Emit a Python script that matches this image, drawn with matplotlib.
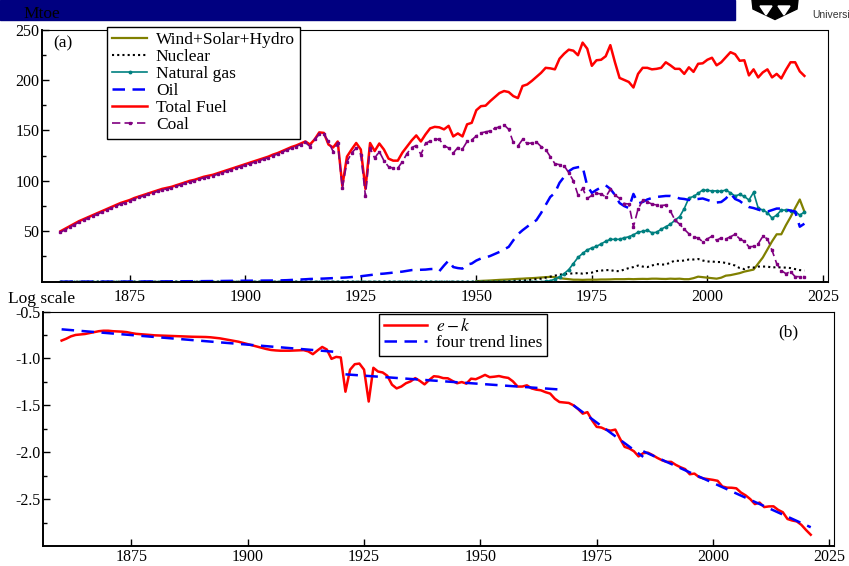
import numpy as np
import matplotlib
matplotlib.use("Agg")
import matplotlib.pyplot as plt
from matplotlib.patches import Rectangle, Polygon

plt.rcParams['font.family'] = ['Liberation Serif', 'DejaVu Serif']
plt.rcParams['mathtext.fontset'] = 'stix'
plt.rcParams['axes.unicode_minus'] = False

# ---- data (a): UK primary energy, Mtoe ----
years = np.arange(1860, 2022)

total_fuel = [
    50, 52.5, 55, 57.5, 60, 62, 64, 66, 68, 70,
    72, 74, 76, 78, 79.5, 81, 83, 84.5, 86, 87.5,
    89, 90.5, 92, 93, 94, 95.5, 97, 98.5, 100, 101,
    102.5, 104, 105, 106, 107.5, 109, 110.5, 112, 113.5, 115,
    116.5, 118, 119.5, 121, 122.5, 124, 126, 127.5, 129.5, 131.5,
    133.5, 135, 137, 139, 136, 141, 148, 147.5, 136, 133,
    139, 95, 124, 131, 137.5, 131, 92, 137.5, 129.5, 137,
    131, 122, 120, 120, 128, 134, 140, 145, 139, 146,
    152, 153.5, 153, 151, 154.5, 144, 147, 144, 156, 157.5,
    170, 174, 174.5, 179, 183, 187, 189, 188, 184, 182,
    194, 195.5, 199, 203, 207, 212, 211.5, 210.5, 221, 226,
    230, 229, 224.5, 237, 231, 214, 219.5, 220, 223.5, 234.5,
    217.5, 202, 200, 198, 192.5, 206, 212, 212, 210.5, 211,
    212, 217.5, 214.5, 211, 211, 206, 212.5, 208, 216, 216.5,
    220, 222, 214.5, 217.5, 222.5, 227.5, 225.5, 219, 219.5, 204.5,
    210.5, 202.5, 207.5, 210.5, 202.5, 206, 201.5, 210, 217.5, 217.5,
    208.5, 204]

coal = [
    49, 51.5, 54, 56.5, 59, 61, 63, 65, 67, 69,
    71, 73, 75, 77, 78.5, 80, 82, 83.5, 85, 86.5,
    88, 89.5, 91, 92, 93, 94.5, 96, 97.5, 99, 100,
    101.5, 103, 104, 105, 106.5, 108, 109.5, 111, 112.5, 114,
    115.5, 117, 118.5, 120, 121.5, 123, 125, 126.5, 128.5, 130.5,
    132.5, 134, 136, 138, 134, 141, 146, 146, 139, 129,
    137.5, 92.5, 119, 127.5, 132.5, 126, 85, 132.5, 122.5, 129,
    120, 114, 112.5, 112.5, 119, 127, 133, 135, 126, 137,
    139.5, 141.5, 141, 135, 132.5, 127.5, 133, 131.5, 139, 140.5,
    144.5, 147.5, 148.5, 149.5, 152, 153.5, 155.5, 151, 138, 134.5,
    141, 137, 137.5, 138.5, 134, 131, 124, 117, 116, 115,
    108, 100, 86, 92.5, 82.5, 85.5, 87.5, 87, 84, 91.5,
    86, 82.5, 77.5, 77, 54.5, 72, 80.5, 79, 77, 76,
    75.5, 76, 70, 61, 57, 52, 47.5, 44, 43.5, 39.5,
    42.5, 45, 41, 43.5, 42.5, 44.5, 47, 42.5, 40, 34.5,
    35, 37.5, 45, 42.5, 31, 18, 11, 8, 10, 5,
    5, 5]

oil = [
    0, 0, 0, 0, 0, 0, 0, 0, 0, 0,
    0.1, 0.1, 0.1, 0.1, 0.1, 0.2, 0.2, 0.2, 0.2, 0.2,
    0.3, 0.3, 0.3, 0.3, 0.4, 0.4, 0.4, 0.4, 0.5, 0.5,
    0.5, 0.6, 0.6, 0.6, 0.7, 0.7, 0.8, 0.8, 0.9, 0.9,
    1.0, 1.0, 1.0, 1.1, 1.1, 1.1, 1.2, 1.2, 1.3, 1.5,
    1.7, 1.9, 2.2, 2.4, 2.7, 2.8, 3.0, 3.1, 3.3, 3.5,
    3.7, 3.9, 4.2, 4.6, 5.0, 5.4, 6.0, 6.6, 7.2, 7.7,
    8.0, 8.5, 9.0, 9.5, 10.0, 10.8, 11.5, 11.7, 11.8, 12.0,
    12.5, 12.7, 10.5, 16, 21, 14.5, 13.5, 13, 17, 18,
    21, 23, 24, 25.5, 27.5, 29.5, 32, 34.5, 41, 47,
    51, 54.5, 58, 61, 68, 76, 84, 88, 98, 104,
    109.5, 112.5, 113.5, 114, 95, 88, 91, 93.5, 95.5, 92,
    86, 78, 75, 73, 87, 77.5, 79, 81.5, 83, 84,
    84.5, 85, 85, 84, 82.5, 82, 81, 81.5, 82, 82.5,
    81, 79.5, 78.5, 79, 82.5, 87.5, 82, 80, 76.5, 74,
    73, 71.5, 70, 69.5, 71, 72.5, 72.5, 71.5, 70.5, 69.5,
    54.5, 57.5]

natural_gas = [
    0, 0, 0, 0, 0, 0, 0, 0, 0, 0,
    0, 0, 0, 0, 0, 0, 0, 0, 0, 0,
    0, 0, 0, 0, 0, 0, 0, 0, 0, 0,
    0, 0, 0, 0, 0, 0, 0, 0, 0, 0,
    0, 0, 0, 0, 0, 0, 0, 0, 0, 0,
    0, 0, 0, 0, 0, 0, 0, 0, 0, 0,
    0, 0, 0, 0, 0, 0, 0, 0, 0, 0,
    0, 0, 0, 0, 0, 0, 0, 0, 0, 0,
    0, 0, 0, 0, 0, 0, 0, 0, 0, 0,
    0, 0, 0, 0, 0, 0, 0, 0, 0, 0,
    0, 0, 0, 0, 0, 0.3, 1, 2.5, 5, 8,
    12, 18, 24, 28, 31.5, 33.5, 35, 37.5, 40, 42,
    42, 42, 43.5, 44.5, 46.5, 49, 50, 51, 48.5, 49,
    52, 54.5, 57, 61, 64.5, 72.5, 83, 84.5, 87.5, 91,
    90.5, 90, 90, 89.5, 91, 88, 85, 86.5, 84.5, 81,
    88.5, 73, 71, 68.5, 63, 66, 71, 71, 70.5, 69.5,
    66, 69]

nuclear = [
    0, 0, 0, 0, 0, 0, 0, 0, 0, 0,
    0, 0, 0, 0, 0, 0, 0, 0, 0, 0,
    0, 0, 0, 0, 0, 0, 0, 0, 0, 0,
    0, 0, 0, 0, 0, 0, 0, 0, 0, 0,
    0, 0, 0, 0, 0, 0, 0, 0, 0, 0,
    0, 0, 0, 0, 0, 0, 0, 0, 0, 0,
    0, 0, 0, 0, 0, 0, 0, 0, 0, 0,
    0, 0, 0, 0, 0, 0, 0, 0, 0, 0,
    0, 0, 0, 0, 0, 0, 0, 0, 0, 0,
    0, 0, 0, 0, 0, 0, 0.2, 0.5, 0.8, 1,
    1, 1.5, 2, 2.5, 3, 4, 5, 6, 7, 7.5,
    8, 8.3, 8.5, 8, 8.5, 9, 10.5, 11, 11.5, 11.5,
    10.5, 10.5, 12, 13.5, 14.5, 16, 15, 14.5, 16, 17.5,
    17, 17, 19, 21, 20.5, 21, 22, 22, 22.5, 21,
    20, 20, 19.5, 19.5, 18.5, 17.5, 16, 13.5, 12.5, 14.5,
    14, 15, 15, 15, 14, 14.5, 14, 14, 13.5, 12.5,
    11.5, 11]

ren_years = np.arange(1950, 2022)
wind_solar_hydro = [
    0.5, 0.8, 1, 1.2, 1.5, 1.8, 2, 2.2, 2.5, 2.8,
    3, 3.3, 3.5, 3.8, 4.2, 4.5, 4.8, 4.5, 3.5, 3,
    2.5, 2, 2, 1.8, 2, 2, 2, 2.2, 2.2, 2.3,
    2.5, 2.5, 2.5, 2.7, 2.5, 2.7, 2.8, 2.7, 3, 3,
    2.8, 2.7, 3, 2.8, 3, 2.5, 2.5, 3.5, 5, 4.5,
    4, 3.5, 3, 4, 6, 6.5, 7.5, 8.5, 10, 11,
    12, 18, 24, 32, 40, 47, 47, 56, 64, 73,
    81.5, 69.5]

# ---- data (b): e - k, log scale ----
ek = [
    -0.81, -0.79, -0.765, -0.75, -0.745, -0.74, -0.73, -0.72, -0.71, -0.705,
    -0.705, -0.71, -0.712, -0.715, -0.72, -0.73, -0.738, -0.742, -0.746, -0.75,
    -0.754, -0.756, -0.758, -0.76, -0.762, -0.764, -0.766, -0.768, -0.769, -0.77,
    -0.77, -0.772, -0.775, -0.78, -0.786, -0.795, -0.803, -0.812, -0.822, -0.835,
    -0.848, -0.862, -0.875, -0.888, -0.9, -0.91, -0.915, -0.918, -0.918, -0.918,
    -0.916, -0.914, -0.912, -0.925, -0.955, -0.915, -0.878, -0.905, -1.005, -0.984,
    -0.99, -1.355, -1.12, -1.062, -1.055, -1.12, -1.46, -1.10, -1.14, -1.15,
    -1.185, -1.28, -1.32, -1.30, -1.265, -1.245, -1.21, -1.24, -1.277, -1.23,
    -1.19, -1.195, -1.21, -1.212, -1.24, -1.265, -1.252, -1.269, -1.216, -1.222,
    -1.2, -1.176, -1.2, -1.195, -1.188, -1.2, -1.208, -1.245, -1.3, -1.3,
    -1.287, -1.32, -1.333, -1.34, -1.36, -1.375, -1.43, -1.465, -1.47, -1.475,
    -1.5, -1.54, -1.589, -1.573, -1.66, -1.73, -1.737, -1.76, -1.77, -1.759,
    -1.855, -1.943, -1.96, -1.99, -2.045, -2.01, -2.005, -2.03, -2.06, -2.085,
    -2.103, -2.103, -2.135, -2.16, -2.18, -2.235, -2.228, -2.265, -2.28, -2.287,
    -2.295, -2.305, -2.365, -2.378, -2.379, -2.385, -2.43, -2.46, -2.5, -2.553,
    -2.537, -2.585, -2.578, -2.577, -2.615, -2.64, -2.712, -2.728, -2.738, -2.775,
    -2.83, -2.88]

trend_years = [[1860, 1920], [1921, 1968], [1970, 1985], [1985, 2021]]
trend_vals = [[-0.69, -0.935], [-1.17, -1.335], [-1.50, -2.05], [-1.99, -2.80]]

# ---- figure ----
fig = plt.figure(figsize=(8.49, 5.66), dpi=100)
W, H = 849.0, 566.0

# slide header bar and logo
fig.patches.append(Rectangle((0, 1 - 19.5 / H), 735 / W, 19.5 / H,
                             transform=fig.transFigure, color='#000080', zorder=0))
shield = [(752, 0), (798, 0), (797, 9), (775, 19.5), (753, 9)]
fig.patches.append(Polygon([(x / W, 1 - y / H) for x, y in shield], closed=True,
                           transform=fig.transFigure, color='black', zorder=1))
for cx in (766, 784):
    tri = [(cx - 6, 6), (cx + 6, 6), (cx, 15)]
    fig.patches.append(Polygon([(x / W, 1 - y / H) for x, y in tri], closed=True,
                               transform=fig.transFigure, color='white', zorder=2))
fig.text(812 / W, 1 - 15 / H, 'Universi', fontsize=7.5, color='#333333',
         family=['Liberation Sans Narrow', 'Liberation Sans', 'DejaVu Sans'],
         va='center', ha='left')
fig.text(23 / W, 1 - 17.5 / H, 'Mtoe', fontsize=12.5, color='black', va='baseline')
fig.text(8 / W, 1 - 303 / H, 'Log scale', fontsize=12.5, va='baseline')

ax1 = fig.add_axes([42 / W, 1 - 281.7 / H, 785.5 / W, 252.2 / H])
ax2 = fig.add_axes([43 / W, 1 - 546 / H, 791 / W, 234.5 / H])

ax1.plot(ren_years, wind_solar_hydro, color='#808000', lw=1.6, label='Wind+Solar+Hydro')
ax1.plot(years, nuclear, color='black', lw=1.5, ls=(0, (1, 1.5)), label='Nuclear')
ax1.plot(years, natural_gas, color='#008080', lw=1.2, marker='o', ms=1.8,
         label='Natural gas')
ax1.plot(years, oil, color='#0000ff', lw=1.8, ls=(0, (5, 3)), label='Oil')
ax1.plot(years, total_fuel, color='#ff0000', lw=1.8, label='Total Fuel')
ax1.plot(years, coal, color='#800080', lw=1.2, ls=(0, (5, 2.5)), marker='s', ms=2.0,
         label='Coal')

ax1.set_xlim(1856, 2026)
ax1.set_ylim(0, 250)
ax1.set_yticks([50, 100, 150, 200, 250])
ax1.set_yticks(np.arange(25, 250, 50), minor=True)
ax1.set_xticks([1875, 1900, 1925, 1950, 1975, 2000, 2025])
ax1.text(0.014, 0.943, '(a)', transform=ax1.transAxes, fontsize=12.5, va='center')
leg1 = ax1.legend(loc='upper left', bbox_to_anchor=(0.083, 1.01), borderaxespad=0,
                  fontsize=12.5, frameon=True, fancybox=False, framealpha=1,
                  edgecolor='black', labelspacing=0.05, handlelength=2.0,
                  handletextpad=0.5, borderpad=0.3)
leg1.get_frame().set_linewidth(1.0)

ax2.plot(years, ek, color='#ff0000', lw=1.8, label='$e-k$')
for i in range(len(trend_years)):
    ax2.plot(trend_years[i], trend_vals[i], color='#0000ff', lw=1.8, ls=(0, (5, 3)),
             label='four trend lines' if i == 0 else None)
ax2.set_xlim(1856, 2026)
ax2.set_ylim(-3.0, -0.5)
ax2.set_yticks([-2.5, -2.0, -1.5, -1.0, -0.5])
ax2.set_yticklabels(['-2.5', '-2.0', '-1.5', '-1.0', '-0.5'])
ax2.set_yticks([-2.75, -2.25, -1.75, -1.25, -0.75], minor=True)
ax2.set_xticks([1875, 1900, 1925, 1950, 1975, 2000, 2025])
ax2.text(0.929, 0.913, '(b)', transform=ax2.transAxes, fontsize=12.5, va='center')
leg2 = ax2.legend(loc='upper center', bbox_to_anchor=(0.531, 0.99), borderaxespad=0,
                  fontsize=12.5, frameon=True, fancybox=False, framealpha=1,
                  edgecolor='black', labelspacing=0.0, handlelength=2.5,
                  handletextpad=0.5, borderpad=0.25)
leg2.get_frame().set_linewidth(1.0)

for ax, xpad in ((ax1, 5), (ax2, 2)):
    ax.tick_params(axis='both', which='major', direction='in', length=5, width=1,
                   labelsize=11.5, top=False, right=False)
    ax.tick_params(axis='y', which='minor', direction='in', length=3, width=1)
    ax.tick_params(axis='x', pad=xpad)
    ax.tick_params(axis='y', pad=2)
    ax.spines['left'].set_linewidth(1.4)
    ax.spines['bottom'].set_linewidth(1.4)
    ax.spines['top'].set_linewidth(0.8)
    ax.spines['right'].set_linewidth(0.8)

fig.savefig('out.png', dpi=100)
